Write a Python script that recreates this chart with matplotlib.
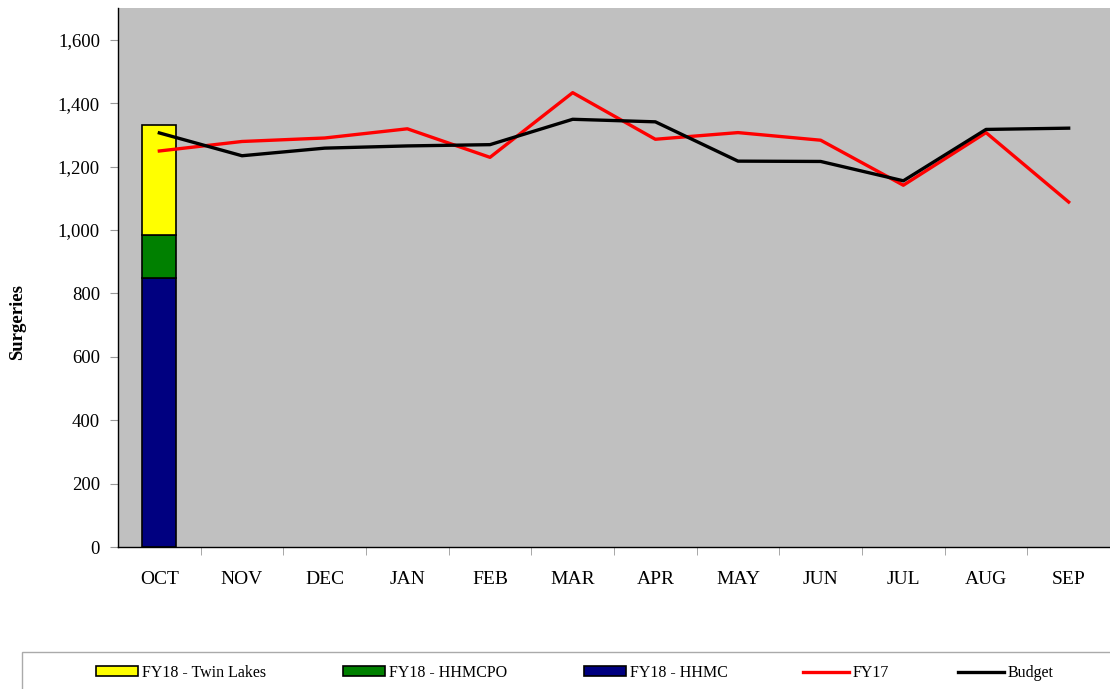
import matplotlib.pyplot as plt
from matplotlib.patches import Rectangle
import numpy as np

# ----------------------------------------------------------
# Data
# ----------------------------------------------------------
months = ["OCT", "NOV", "DEC", "JAN", "FEB", "MAR",
          "APR", "MAY", "JUN", "JUL", "AUG", "SEP"]

fy18_hhmc = [849]
fy18_hhmcpo = [134]
fy18_twin_lakes = [347]

fy17 = [1249, 1279, 1290, 1319, 1229, 1433, 1286, 1307, 1283, 1141, 1307, 1088]
budget = [1306, 1234, 1258, 1265, 1269, 1349, 1341, 1217, 1216, 1155, 1317, 1321]

legend_labels = ["FY18 - Twin Lakes", "FY18 - HHMCPO", "FY18 - HHMC", "FY17", "Budget"]

# ----------------------------------------------------------
# Figure
# ----------------------------------------------------------
plt.rcParams["font.family"] = ["Liberation Serif", "DejaVu Serif"]

W, H = 1110, 689
fig = plt.figure(figsize=(W / 100, H / 100), dpi=100)
ax = fig.add_axes([118 / W, 1 - 547 / H, 1 - 118 / W, (547 - 8) / H])
ax.set_facecolor("#C0C0C0")

x = np.arange(len(months))
xb = x[:len(fy18_hhmc)]
bottom2 = np.array(fy18_hhmc)
bottom3 = bottom2 + np.array(fy18_hhmcpo)

bw = 0.41
b1 = ax.bar(xb, fy18_hhmc, width=bw, color="#000080", edgecolor="black", linewidth=1.2, zorder=2)
b2 = ax.bar(xb, fy18_hhmcpo, bottom=bottom2, width=bw, color="#008000", edgecolor="black", linewidth=1.2, zorder=2)
b3 = ax.bar(xb, fy18_twin_lakes, bottom=bottom3, width=bw, color="#FFFF00", edgecolor="black", linewidth=1.2, zorder=2)

l1, = ax.plot(x, fy17, color="#FF0000", linewidth=2.4, zorder=3)
l2, = ax.plot(x, budget, color="black", linewidth=2.4, zorder=4)

ax.set_xlim(-0.5, len(months) - 0.5)
ax.set_ylim(0, 1700)
ax.set_yticks(np.arange(0, 1601, 200))
ax.set_yticklabels([f"{v:,}" for v in range(0, 1601, 200)], fontsize=13.5)

ax.set_xticks(x)
ax.set_xticklabels(months, fontsize=14)
ax.set_xticks(np.arange(0.5, len(months) - 0.5, 1), minor=True)
ax.tick_params(axis="x", which="major", length=0, pad=17)
ax.tick_params(axis="x", which="minor", length=6, color="#999999")
ax.tick_params(axis="y", length=6, color="#999999", pad=7)

for s in ["top", "right"]:
    ax.spines[s].set_visible(False)
for s in ["left", "bottom"]:
    ax.spines[s].set_color("black")
    ax.spines[s].set_linewidth(1.0)

ax.set_ylabel("Surgeries", fontsize=13.5, fontweight="bold")
ax.yaxis.set_label_coords(-0.093, 0.417)

# ----------------------------------------------------------
# Legend (frame + one entry per slot, like the Excel layout)
# ----------------------------------------------------------
fig.add_artist(Rectangle((22 / W, -0.05), 1.0, (689 - 652) / H + 0.05,
                         transform=fig.transFigure, facecolor="white",
                         edgecolor="#AAAAAA", linewidth=1.0, zorder=0))

handles = [b3, b2, b1, l1, l2]
slots = [96, 343, 584, 803, 958]
for h, lab, px in zip(handles, legend_labels, slots):
    is_line = lab in ("FY17", "Budget")
    fig.legend([h], [lab], loc="center left",
               bbox_to_anchor=(px / W, 1 - 673 / H),
               fontsize=11.5, frameon=False, borderpad=0, borderaxespad=0,
               handlelength=2.9 if is_line else 2.65,
               handleheight=0.6, handletextpad=0.2)

fig.savefig("out.png", dpi=100)
